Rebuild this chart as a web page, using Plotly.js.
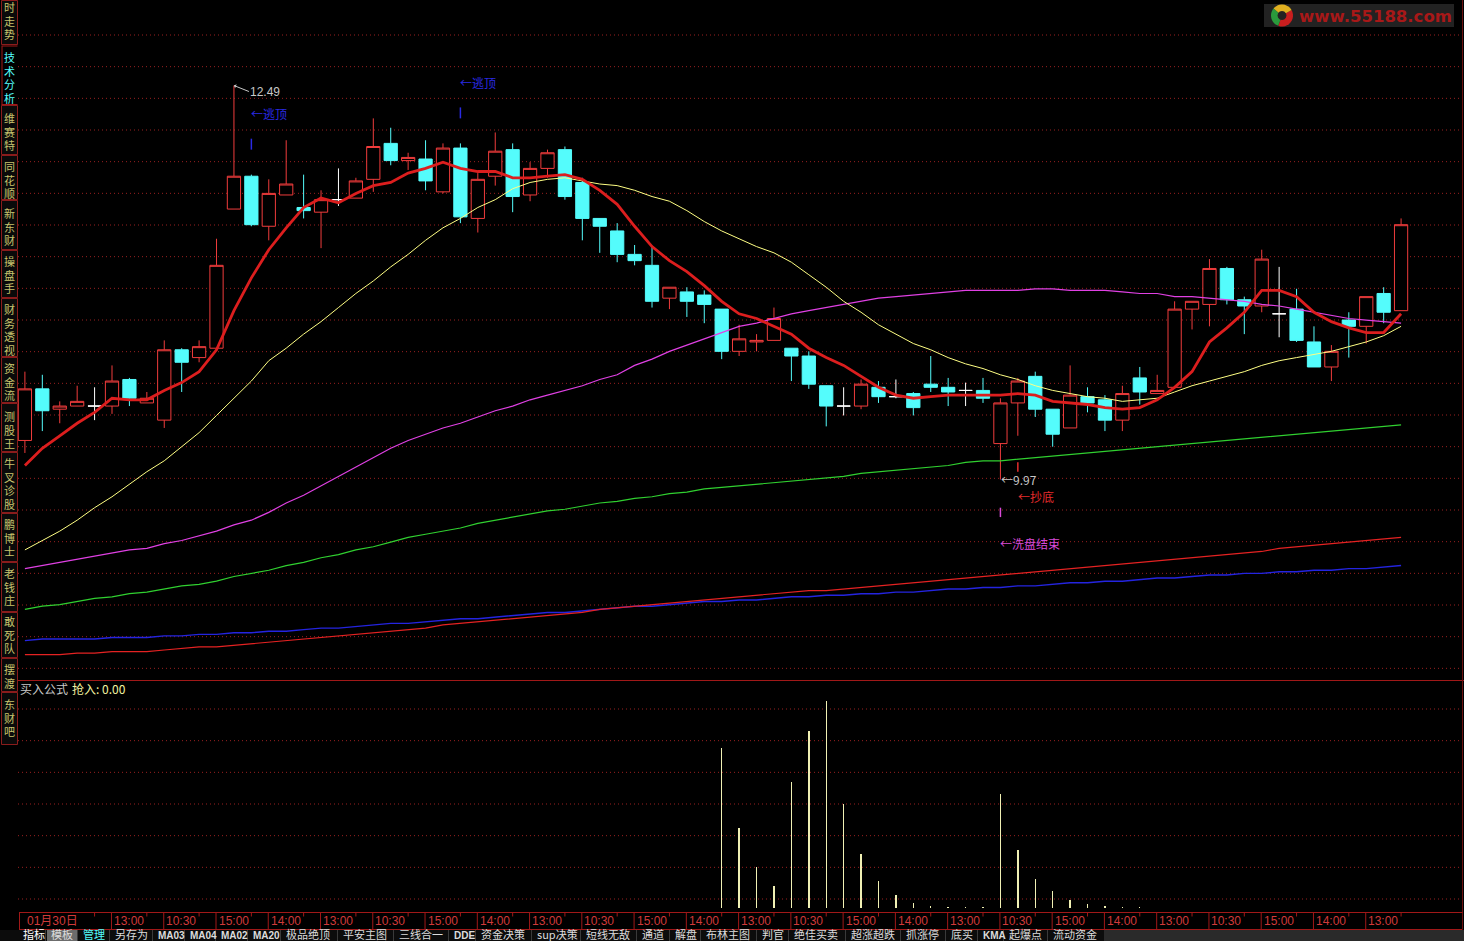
<!DOCTYPE html>
<html>
<head>
<meta charset="utf-8">
<title>60分钟K线</title>
<script src="https://cdn.plot.ly/plotly-3.0.1.min.js"></script>
<style>
html,body{margin:0;padding:0;background:#000;overflow:hidden;}
#chart{width:1464px;height:941px;}
</style>
</head>
<body>
<div id="chart"></div>
<script>
// ---------- 60-minute bars, index 0 = 01月30日 first bar ----------
const opens = [10.22,10.55,10.42,10.44,10.44,10.44,10.61,10.46,10.35,10.80,
  10.75,10.81,11.70,11.91,11.59,11.79,11.71,11.68,11.76,11.77,
  11.89,12.12,12.01,12.02,11.81,12.09,11.64,11.91,12.08,11.79,
  11.96,12.08,11.87,11.64,11.56,11.41,11.34,11.13,11.17,11.15,
  11.06,10.79,10.85,10.86,10.81,10.76,10.57,10.44,10.44,10.56,
  10.50,10.52,10.58,10.56,10.54,10.54,10.20,10.46,10.63,10.42,
  10.30,10.50,10.48,10.35,10.62,10.52,10.56,11.06,11.09,11.32,
  11.12,11.08,11.03,11.06,10.85,10.69,10.99,10.95,11.16,11.05];
const highs = [10.66,10.64,10.47,10.57,10.56,10.70,10.62,10.53,10.86,10.81,
  10.86,11.51,12.49,11.92,11.89,12.14,11.92,11.82,11.96,11.90,
  12.28,12.22,12.06,12.14,12.12,12.12,11.93,12.19,12.12,12.00,
  12.08,12.10,11.90,11.64,11.61,11.47,11.46,11.20,11.20,11.18,
  11.06,10.96,10.90,11.07,10.81,10.79,10.57,10.56,10.61,10.60,
  10.61,10.53,10.76,10.62,10.59,10.62,10.49,10.62,10.66,10.42,
  10.70,10.56,10.51,10.57,10.69,10.64,11.11,11.11,11.38,11.33,
  11.14,11.44,11.33,11.19,10.95,10.83,11.04,11.14,11.20,11.64];
const lows = [10.14,10.28,10.33,10.44,10.35,10.39,10.44,10.46,10.30,10.53,
  10.72,10.80,11.70,11.59,11.50,11.79,11.64,11.45,11.72,11.77,
  11.81,11.98,11.95,11.82,11.80,11.61,11.55,11.85,11.68,11.75,
  11.90,11.76,11.50,11.42,11.36,11.34,11.07,11.06,11.01,10.97,
  10.74,10.76,10.79,10.86,10.60,10.55,10.31,10.38,10.42,10.46,
  10.49,10.38,10.53,10.44,10.44,10.46,9.97,10.25,10.37,10.18,
  10.30,10.40,10.28,10.28,10.45,10.52,10.56,10.93,10.95,11.09,
  10.90,11.04,10.88,10.85,10.69,10.60,10.75,10.84,10.97,11.05];
const closes = [10.55,10.41,10.44,10.47,10.44,10.60,10.49,10.49,10.80,10.72,
  10.82,11.34,11.91,11.60,11.80,11.86,11.69,11.76,11.76,11.88,
  12.10,12.01,12.03,11.88,12.09,11.65,11.89,12.07,11.78,11.96,
  12.06,11.78,11.64,11.59,11.41,11.37,11.11,11.20,11.11,11.09,
  10.79,10.87,10.86,11.00,10.76,10.58,10.44,10.44,10.58,10.50,
  10.50,10.43,10.56,10.53,10.54,10.49,10.46,10.60,10.42,10.26,
  10.51,10.46,10.35,10.52,10.53,10.54,11.06,11.11,11.32,11.12,
  11.08,11.38,11.03,10.86,10.69,10.79,10.95,11.14,11.04,11.60];

// ---------- moving averages ----------
const ma5 = [10.06,10.17,10.25,10.33,10.40,10.49,10.48,10.48,10.54,10.59,
  10.66,10.80,11.05,11.26,11.44,11.58,11.71,11.77,11.74,11.80,
  11.85,11.87,11.93,11.96,12.00,11.96,11.94,11.94,11.90,11.90,
  11.91,11.92,11.89,11.82,11.73,11.59,11.46,11.37,11.30,11.21,
  11.11,11.03,11.00,10.95,10.90,10.81,10.75,10.70,10.63,10.56,
  10.51,10.49,10.50,10.51,10.51,10.51,10.51,10.52,10.51,10.47,
  10.46,10.45,10.43,10.42,10.43,10.48,10.56,10.66,10.85,10.94,
  11.04,11.18,11.18,11.14,11.04,10.98,10.94,10.91,10.91,11.03];
const ma20 = [9.52,9.58,9.64,9.71,9.79,9.86,9.94,10.02,10.09,10.18,
  10.27,10.38,10.49,10.60,10.73,10.81,10.90,10.98,11.07,11.16,
  11.24,11.33,11.41,11.50,11.58,11.64,11.71,11.76,11.83,11.87,
  11.89,11.90,11.88,11.86,11.85,11.82,11.78,11.75,11.69,11.62,
  11.56,11.51,11.46,11.42,11.36,11.28,11.20,11.11,11.04,10.96,
  10.90,10.84,10.80,10.75,10.71,10.68,10.64,10.61,10.57,10.54,
  10.52,10.50,10.49,10.47,10.48,10.49,10.53,10.57,10.60,10.63,
  10.66,10.70,10.73,10.75,10.77,10.79,10.82,10.85,10.89,10.95];
const ma60 = [9.40,9.42,9.44,9.46,9.48,9.50,9.52,9.53,9.56,9.58,
  9.61,9.64,9.68,9.71,9.76,9.82,9.87,9.93,9.99,10.05,
  10.11,10.17,10.22,10.26,10.30,10.33,10.37,10.41,10.44,10.48,
  10.51,10.54,10.57,10.61,10.64,10.70,10.74,10.79,10.83,10.87,
  10.91,10.95,10.97,11.00,11.03,11.05,11.07,11.09,11.11,11.13,
  11.14,11.15,11.16,11.17,11.18,11.18,11.18,11.18,11.19,11.19,
  11.18,11.18,11.18,11.17,11.16,11.16,11.14,11.14,11.13,11.12,
  11.11,11.09,11.08,11.06,11.04,11.02,11.00,10.99,10.98,10.97];
const ma120 = [9.14,9.16,9.17,9.19,9.21,9.22,9.24,9.25,9.27,9.29,
  9.30,9.32,9.35,9.37,9.39,9.42,9.44,9.47,9.49,9.52,
  9.54,9.57,9.60,9.62,9.64,9.66,9.69,9.71,9.73,9.75,
  9.77,9.78,9.80,9.82,9.83,9.85,9.86,9.88,9.89,9.91,
  9.92,9.93,9.94,9.95,9.96,9.97,9.98,9.99,10.01,10.02,
  10.03,10.04,10.05,10.06,10.08,10.09,10.09,10.10,10.11,10.12,
  10.13,10.14,10.15,10.16,10.17,10.18,10.19,10.20,10.21,10.22,
  10.23,10.24,10.25,10.26,10.27,10.28,10.29,10.30,10.31,10.32];
const ma250 = [8.85,8.85,8.85,8.86,8.86,8.87,8.87,8.87,8.88,8.89,
  8.90,8.90,8.91,8.92,8.93,8.94,8.95,8.96,8.97,8.98,
  8.99,9.00,9.01,9.02,9.04,9.05,9.06,9.07,9.08,9.09,
  9.10,9.11,9.12,9.14,9.15,9.16,9.17,9.18,9.19,9.20,
  9.21,9.22,9.23,9.24,9.25,9.26,9.26,9.27,9.28,9.29,
  9.30,9.31,9.32,9.33,9.34,9.35,9.36,9.37,9.38,9.39,
  9.40,9.41,9.42,9.43,9.44,9.45,9.46,9.47,9.48,9.49,
  9.50,9.51,9.53,9.54,9.55,9.56,9.57,9.58,9.59,9.60];
const ma360 = [8.94,8.95,8.95,8.95,8.95,8.96,8.96,8.96,8.97,8.97,
  8.98,8.98,8.99,8.99,9.00,9.00,9.01,9.02,9.02,9.03,
  9.04,9.05,9.05,9.06,9.07,9.08,9.08,9.09,9.10,9.11,
  9.12,9.12,9.13,9.14,9.15,9.16,9.16,9.17,9.18,9.19,
  9.19,9.20,9.20,9.21,9.22,9.22,9.23,9.23,9.24,9.24,
  9.25,9.25,9.26,9.27,9.27,9.28,9.28,9.29,9.29,9.30,
  9.31,9.31,9.32,9.32,9.33,9.34,9.34,9.35,9.36,9.36,
  9.37,9.37,9.38,9.38,9.39,9.39,9.40,9.40,9.41,9.42];

// ---------- 买入公式: 抢入 ----------
const buyPower = [0,0,0,0,0,0,0,0,0,0, 0,0,0,0,0,0,0,0,0,0,
  0,0,0,0,0,0,0,0,0,0, 0,0,0,0,0,0,0,0,0,0,
  1.60,0.80,0.41,0.22,1.26,1.77,2.07,1.04,0.54,0.27,
  0.13,0.05,0.02,0.015,0.01,0.01,1.14,0.58,0.29,0.17,
  0.08,0.04,0.02,0.015,0.01,0,0,0,0,0, 0,0,0,0,0,0,0,0,0,0];

// ---------- signals drawn on the price panel ----------
const signalBars   = [13, 25, 57, 56];
const signalTop    = [12.15, 12.35, 10.08, 9.79];
const signalBottom = [12.08, 12.28, 10.02, 9.73];
const signalTextAt = [12.31, 12.51, 9.86, 9.56];
const signalText   = ['←逃顶', '←逃顶', '←抄底', '←洗盘结束'];

// ---------- time axis labels ----------
const tickBars = [0,5,8,11,14,17,20,23,26,29,32,35,38,41,44,47,50,53,56,59,62,65,68,71,74,77];
const tickText = ['01月30日','13:00','10:30','15:00','14:00','13:00','10:30','15:00','14:00',
  '13:00','10:30','15:00','14:00','13:00','10:30','15:00','14:00','13:00','10:30','15:00',
  '14:00','13:00','10:30','15:00','14:00','13:00'];

// ---------- side tabs and bottom toolbar ----------
const tabNames = ['时走势','技术分析','维赛特','同花顺','新东财','操盘手','财务透视','资金流',
  '测股王','牛叉诊股','鹏博士','老钱庄','敢死队','摆渡','东财吧'];
const toolNames = ['指标','模板','管理','另存为','MA03','MA04','MA02','MA20','极品绝顶','平安主图',
  '三线合一','DDE','资金决策','sup决策','短线无敌','通道','解盘','布林主图','判官','绝佳买卖',
  '超涨超跌','抓涨停','底买','KMA','起爆点','流动资金'];

// =============== page geometry ===============
const W = 1464, H = 941;
const PLOT_L = 18, PLOT_B = 29;
const plotW = W - PLOT_L, plotH = H - PLOT_B;
const px = x => (x - PLOT_L) / plotW;
const py = y => (plotH - y) / plotH;
const BAR0_PX = 24.9, BAR_PITCH = 17.42;
const SPLIT_PX = 680;

const UP = '#f03c3c', DOWN = '#54fcfc', DOJI = '#ffffff';
const GRID = '#9a2020', FRAME = '#a01818';
const CJK = '"Noto Sans CJK SC", sans-serif';
const NUM = '"Liberation Sans", "Noto Sans CJK SC", sans-serif';

const idx = closes.map((_, i) => i);
const bodyIdx = idx.filter(i => opens[i] !== closes[i]);
const dojiIdx = idx.filter(i => opens[i] === closes[i]);
const pick = (arr, ids) => ids.map(i => arr[i]);

function candle(ids, upLine, upFill, dnLine, dnFill) {
  return {
    type: 'candlestick', x: ids,
    open: pick(opens, ids), high: pick(highs, ids), low: pick(lows, ids), close: pick(closes, ids),
    increasing: {line: {color: upLine, width: 1}, fillcolor: upFill},
    decreasing: {line: {color: dnLine, width: 1}, fillcolor: dnFill},
    whiskerwidth: 0, hoverinfo: 'skip', xaxis: 'x', yaxis: 'y'
  };
}
function maLine(y, color, width) {
  return {type: 'scatter', mode: 'lines', x: idx, y: y, line: {color: color, width: width},
    hoverinfo: 'skip', xaxis: 'x', yaxis: 'y'};
}

const traces = [
  candle(bodyIdx, UP, '#000000', DOWN, DOWN),
  candle(dojiIdx, DOJI, DOJI, DOJI, DOJI),
  maLine(ma360, '#2424e0', 1.4),
  maLine(ma250, '#e42222', 1.2),
  maLine(ma120, '#30d030', 1.2),
  maLine(ma60, '#e040e4', 1.2),
  maLine(ma20, '#ffff84', 1),
  maLine(ma5, '#dc1e1e', 2.8),
  {type: 'bar', x: idx, y: buyPower, width: 0.08, marker: {color: '#f0f0b4', line: {width: 0}},
    hoverinfo: 'skip', xaxis: 'x', yaxis: 'y2'}
];

// =============== decorations ===============
const shapes = [];
const ann = [];
function seg(x0, y0, x1, y1, color, width, dash, layer) {
  shapes.push({type: 'line', xref: 'paper', yref: 'paper', x0: px(x0), y0: py(y0), x1: px(x1), y1: py(y1),
    line: {color: color, width: width || 1, dash: dash || 'solid'}, layer: layer || 'above'});
}
function box(x0, y0, x1, y1, fill, line, layer) {
  shapes.push({type: 'rect', xref: 'paper', yref: 'paper', x0: px(x0), y0: py(y1), x1: px(x1), y1: py(y0),
    fillcolor: fill, line: line ? {color: line, width: 1} : {width: 0}, layer: layer || 'above'});
}
function poly(pts, fill) {
  const d = 'M ' + pts.map(p => px(p[0]) + ',' + py(p[1])).join(' L ') + ' Z';
  shapes.push({type: 'path', xref: 'paper', yref: 'paper', path: d, fillcolor: fill, line: {width: 0}, layer: 'above'});
}
function label(x, y, s, color, size, family, extra) {
  ann.push(Object.assign({xref: 'paper', yref: 'paper', x: px(x), y: py(y), text: s, showarrow: false,
    xanchor: 'left', yanchor: 'middle', borderpad: 0, font: {color: color, size: size, family: family}}, extra || {}));
}

// dotted grid
for (let k = 0; k <= 20; k++) seg(PLOT_L, 35 + 31.667 * k, W, 35 + 31.667 * k, GRID, 1, '1px,3px', 'below');
for (let k = 0; k <= 6; k++) seg(PLOT_L, 709 + 31.667 * k, W, 709 + 31.667 * k, GRID, 1, '1px,3px', 'below');

// panel frame
seg(PLOT_L, SPLIT_PX + 0.5, W, SPLIT_PX + 0.5, FRAME, 1);
seg(1462.5, 0, 1462.5, 929, '#6a1010', 1);

// signal sticks and texts
const signalColor = {'←逃顶': '#2a2ae4', '←抄底': '#e42c2c', '←洗盘结束': '#d84ad8'};
signalBars.forEach((b, i) => {
  const c = signalColor[signalText[i]];
  shapes.push({type: 'line', xref: 'x', yref: 'y', x0: b, x1: b, y0: signalBottom[i], y1: signalTop[i],
    line: {color: c, width: 1.5}});
  ann.push({xref: 'x', yref: 'y', x: b, y: signalTextAt[i], text: signalText[i], showarrow: false,
    xanchor: 'left', yanchor: 'middle', borderpad: 0, xshift: -1, font: {color: c, size: 12, family: CJK}});
});

// highest / lowest marks
const hiVal = Math.max(...highs), hiBar = highs.indexOf(hiVal);
const loVal = Math.min(...lows), loBar = lows.indexOf(loVal);
ann.push({xref: 'x', yref: 'y', x: hiBar, y: hiVal, text: hiVal.toFixed(2), showarrow: true,
  ax: 15, ay: 6, xanchor: 'left', yanchor: 'middle', borderpad: 0, arrowhead: 1, arrowsize: 0.7,
  arrowwidth: 1, arrowcolor: '#c8c8c8', standoff: 0, font: {color: '#c8c8c8', size: 12, family: NUM}});
ann.push({xref: 'x', yref: 'y', x: loBar, y: loVal, text: '←' + loVal.toFixed(2), showarrow: false,
  xanchor: 'left', yanchor: 'middle', borderpad: 0, font: {color: '#c8c8c8', size: 12, family: CJK}});

// lower panel title
label(19, 688, '买入公式', '#c8c8c8', 12, CJK);
label(71, 688, '抢入: ' + buyPower[buyPower.length - 1].toFixed(2), '#f4f4a0', 12, CJK);

// time strip
seg(19, 912.5, 1462.5, 912.5, FRAME, 1);
seg(19, 929.5, 1462.5, 929.5, FRAME, 1);
seg(19.5, 912.5, 19.5, 929.5, FRAME, 1);
tickBars.forEach((b, i) => {
  if (i > 0) shapes.push({type: 'line', xref: 'x', yref: 'paper', x0: b - 0.03, x1: b - 0.03,
    y0: py(912.5), y1: py(929.5), line: {color: FRAME, width: 1}});
  ann.push({xref: 'x', yref: 'paper', x: b, y: py(921), text: tickText[i], showarrow: false,
    xanchor: 'left', yanchor: 'middle', borderpad: 0, xshift: 1,
    font: {color: '#d03a3a', size: 12, family: NUM}});
});
for (let b = 4; b < closes.length; b += 3) {
  shapes.push({type: 'line', xref: 'x', yref: 'paper', x0: b, x1: b, y0: py(913), y1: py(916.5),
    line: {color: FRAME, width: 1}});
}

// side tabs: one vertical text per tab, character pitch set after drawing
const TAB_FONT = 11, TAB_PITCH = 13.5;
const tabSpans = [[0,45],[45,105],[105,155],[155,200],[200,250],[250,298],[298,357],[357,403],
  [403,452],[452,513],[513,562],[562,612],[612,658],[658,692],[692,745]];
const tabMid = [20.5,76.5,131,179,226.5,274,329,381,429,483,537,586.5,634,675.5,717.5];
const tabTexts = new Set();
tabNames.forEach((name, t) => {
  const [a, b] = tabSpans[t];
  const active = name === '技术分析';
  if (active) {
    poly([[1.5, a + 0.5], [17.5, a + 0.5], [17.5, a + 1.5], [2.5, a + 1.5], [2.5, b - 0.5], [1.5, b - 0.5]], FRAME);
    seg(1.5, b - 0.5, 17.5, b - 0.5, FRAME, 1);
  } else {
    box(1.5, a + 0.5, 17.5, b - 0.5, '#0a0a0a', '#8a1c1c');
  }
  const chars = [...name];
  const first = tabMid[t] - (chars.length - 1) * TAB_PITCH / 2;
  const txt = chars.join('<br>');
  tabTexts.add(txt);
  ann.push({xref: 'paper', yref: 'paper', x: px(9.5), y: py(first - 0.78 * TAB_FONT), text: txt,
    showarrow: false, xanchor: 'center', yanchor: 'top', align: 'center', borderpad: 0,
    font: {color: active ? '#54fcfc' : '#c8c46e', size: TAB_FONT, family: CJK}});
});

// bottom toolbar
const toolLeft = [22,50,82,114,157,189,220,252,285,342,398,453,480,536,585,641,674,705,761,793,
  850,905,950,982,1008,1052];
box(0, 930, W, 941, '#0c0c0c', null);
box(1104, 930, W, 941, '#2a2a2a', null);
toolNames.forEach((name, i) => {
  const x = toolLeft[i];
  if (name === '模板') box(x - 3, 930, x + 28, 941, '#6c6c6c', null);
  if (i > 0) seg(x - 4.5, 930, x - 4.5, 941, '#3a3a3a', 1);
  const latin = /^[A-Z0-9]+$/.test(name);
  const color = name === '管理' ? '#54fcfc' : (name === '指标' ? '#ffffff' : '#dcdcdc');
  label(x, latin ? 935.2 : 933.6, latin ? '<b>' + name + '</b>' : name, color, latin ? 10 : 11,
    latin ? NUM : CJK);
});

// site badge, top right
box(1264, 4, 1454, 27, '#222222', null);
function wedge(cx, cy, r, a0, a1) {
  const pts = [[cx, cy]];
  for (let s = 0; s <= 12; s++) {
    const a = (a0 + (a1 - a0) * s / 12) * Math.PI / 180;
    pts.push([cx + r * Math.cos(a), cy + r * Math.sin(a)]);
  }
  return pts;
}
poly(wedge(1282, 15.5, 11, -30, 110), '#c81e1e');
poly(wedge(1282, 15.5, 11, 110, 220), '#2a9a3c');
poly(wedge(1282, 15.5, 11, 220, 330), '#e0b020');
poly(wedge(1282, 15.5, 4.5, 0, 360), '#222222');
label(1298, 16, '<b>www.55188.com</b>', '#a81818', 16.5, '"DejaVu Sans", sans-serif');

const layout = {
  width: W, height: H,
  paper_bgcolor: '#000000', plot_bgcolor: '#000000',
  margin: {l: PLOT_L, r: 0, t: 0, b: PLOT_B, pad: 0},
  showlegend: false,
  boxgap: 0.24, boxgroupgap: 0,
  bargap: 0,
  xaxis: {type: 'linear', range: [(PLOT_L - BAR0_PX) / BAR_PITCH, (W - BAR0_PX) / BAR_PITCH],
    showgrid: false, zeroline: false, showline: false, showticklabels: false, ticks: '',
    rangeslider: {visible: false}, fixedrange: true, anchor: 'y2'},
  yaxis: {domain: [py(SPLIT_PX), 1], range: [8.688, 13.037], showgrid: false, zeroline: false,
    showline: false, showticklabels: false, ticks: '', fixedrange: true},
  yaxis2: {domain: [0, py(SPLIT_PX)], range: [-0.04, 2.28], showgrid: false, zeroline: false,
    showline: false, showticklabels: false, ticks: '', fixedrange: true},
  shapes: shapes,
  annotations: ann
};

Plotly.newPlot('chart', traces, layout, {staticPlot: true, displayModeBar: false}).then(gd => {
  // stack the tab characters at the side-bar pitch
  gd.querySelectorAll('text.annotation-text').forEach(t => {
    if (!tabTexts.has(t.getAttribute('data-unformatted'))) return;
    t.querySelectorAll('tspan.line').forEach((ts, j) => ts.setAttribute('dy', (j * TAB_PITCH) + 'px'));
  });
});
</script>
</body>
</html>
